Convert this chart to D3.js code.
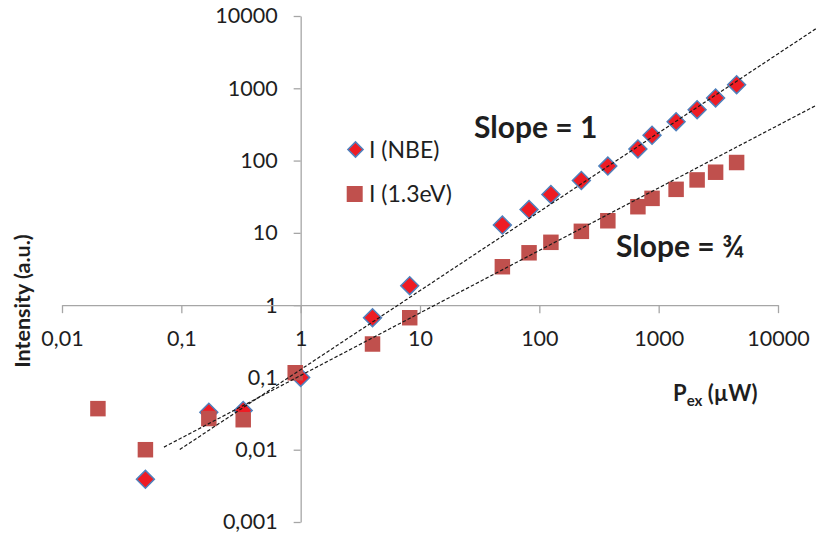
<!DOCTYPE html>
<html>
<head>
<meta charset="utf-8">
<script src="https://cdn.jsdelivr.net/npm/d3@7"></script>
<style>
  body { margin: 0; background: #fff; }
  svg { display: block; }
  text { font-family: Lato, "Open Sans", sans-serif; fill: #1e1e1e; }
</style>
</head>
<body>
<svg id="chart" width="816" height="540"></svg>
<script>
// Excitation power (µW) and PL intensity (a.u.) for the near-band-edge emission
const powerNBE     = [0.05, 0.17, 0.33, 1, 4, 8.2, 49, 82, 125, 225, 375, 670, 880, 1400, 2100, 3000, 4500];
const intensityNBE = [0.0039, 0.033, 0.035, 0.1, 0.67, 1.86, 12.8, 21, 34, 53, 84, 145, 224, 345, 506, 735, 1120];

// Excitation power (µW) and PL intensity (a.u.) for the 1.3 eV band
const power13      = [0.02, 0.05, 0.17, 0.33, 0.9, 4, 8.2, 49, 82, 125, 225, 375, 670, 880, 1400, 2100, 3000, 4500];
const intensity13  = [0.037, 0.01, 0.027, 0.026, 0.116, 0.29, 0.67, 3.4, 5.3, 7.4, 10.5, 14.7, 23, 30, 40, 54, 69, 94];

// Power-law trend lines I = a * P^b, with the power range they are drawn over
const fitNBE      = [0.1285, 1.092];
const fitNBERange = [0.097, 21100];
const fit13       = [0.1064, 0.865];
const fit13Range  = [0.0715, 21100];

// Axis ticks (decimal comma)
const xTickValues = [0.01, 0.1, 1, 10, 100, 1000, 10000];
const xTickLabels = ["0,01", "0,1", "1", "10", "100", "1000", "10000"];
const yTickValues = [0.001, 0.01, 0.1, 1, 10, 100, 1000, 10000];
const yTickLabels = ["0,001", "0,01", "0,1", "1", "10", "100", "1000", "10000"];

const seriesNames = ["I (NBE)", "I (1.3eV)"];

const svg = d3.select("#chart");

const x = d3.scaleLog().domain([0.01, 10000]).range([62, 778]);
const y = d3.scaleLog().domain([0.001, 10000]).range([522, 16]);

const axisColor = "#a6a6a6";
const red = "#ee1c24", blue = "#4f81bd", brick = "#c0504d";

// Y axis through P = 1
const yAxis = svg.append("g")
  .attr("transform", `translate(${x(1)},0)`)
  .call(d3.axisLeft(y).tickValues(yTickValues)
    .tickFormat((d, i) => yTickLabels[i])
    .tickSize(7).tickSizeOuter(0).tickPadding(16));

// X axis through I = 1
const xAxis = svg.append("g")
  .attr("transform", `translate(0,${y(1)})`)
  .call(d3.axisBottom(x).tickValues(xTickValues)
    .tickFormat((d, i) => xTickLabels[i])
    .tickSize(8).tickSizeOuter(0).tickPadding(18));

[yAxis, xAxis].forEach(g => {
  g.select(".domain").attr("stroke", axisColor).attr("stroke-width", 1.3);
  g.selectAll(".tick line").attr("stroke", axisColor).attr("stroke-width", 1.3);
  g.selectAll(".tick text")
    .attr("font-family", "Lato, 'Open Sans', sans-serif")
    .attr("font-size", 21.5).attr("fill", "#1e1e1e");
});

// Data markers
const diamond = d3.symbol().type(d3.symbolSquare).size(160)();
const square  = d3.symbol().type(d3.symbolSquare).size(240)();

const nbe = powerNBE.map((p, i) => ({ p, v: intensityNBE[i] }));
const ev13 = power13.map((p, i) => ({ p, v: intensity13[i] }));

svg.append("g").selectAll("path").data(nbe).join("path")
  .attr("d", diamond)
  .attr("transform", d => `translate(${x(d.p)},${y(d.v)}) rotate(45)`)
  .attr("fill", red).attr("stroke", blue).attr("stroke-width", 1.5);

svg.append("g").selectAll("path").data(ev13).join("path")
  .attr("d", square)
  .attr("transform", d => `translate(${x(d.p)},${y(d.v)})`)
  .attr("fill", brick);

// Trend lines
const line = d3.line().x(d => x(d[0])).y(d => y(d[1]));
[[fitNBE, fitNBERange], [fit13, fit13Range]].forEach(([f, r]) => {
  const pts = r.map(p => [p, f[0] * Math.pow(p, f[1])]);
  svg.append("path").attr("d", line(pts))
    .attr("fill", "none").attr("stroke", "#1a1a1a")
    .attr("stroke-width", 1.2).attr("stroke-dasharray", "3.5,2");
});

// Legend
const legend = svg.append("g").attr("font-size", 23);
legend.append("path").attr("d", d3.symbol().type(d3.symbolSquare).size(115)())
  .attr("transform", "translate(355.5,149.5) rotate(45)")
  .attr("fill", red).attr("stroke", blue).attr("stroke-width", 1.5);
legend.append("text").attr("x", 369).attr("y", 150).attr("dy", "0.35em").text(seriesNames[0]);
legend.append("path").attr("d", d3.symbol().type(d3.symbolSquare).size(256)())
  .attr("transform", "translate(354.7,194)").attr("fill", brick);
legend.append("text").attr("x", 369).attr("y", 194).attr("dy", "0.35em").text(seriesNames[1]);

// Slope annotations
svg.append("text").attr("x", 474).attr("y", 138)
  .attr("font-size", 30).attr("font-weight", "bold").text("Slope = 1");
svg.append("text").attr("x", 616).attr("y", 257)
  .attr("font-size", 30).attr("font-weight", "bold").text("Slope = ¾");

// Axis titles
svg.append("text")
  .attr("transform", "translate(22,301) rotate(-90)")
  .attr("text-anchor", "middle").attr("dy", "0.35em")
  .attr("font-size", 21.5).attr("font-weight", "bold")
  .text("Intensity (a.u.)");

const xTitle = svg.append("text").attr("x", 673).attr("y", 401)
  .attr("font-size", 22).attr("font-weight", "bold");
xTitle.append("tspan").text("P");
xTitle.append("tspan").attr("font-size", 15).attr("dy", 5).text("ex");
xTitle.append("tspan").attr("dy", -5).text(" (µW)");
</script>
</body>
</html>
